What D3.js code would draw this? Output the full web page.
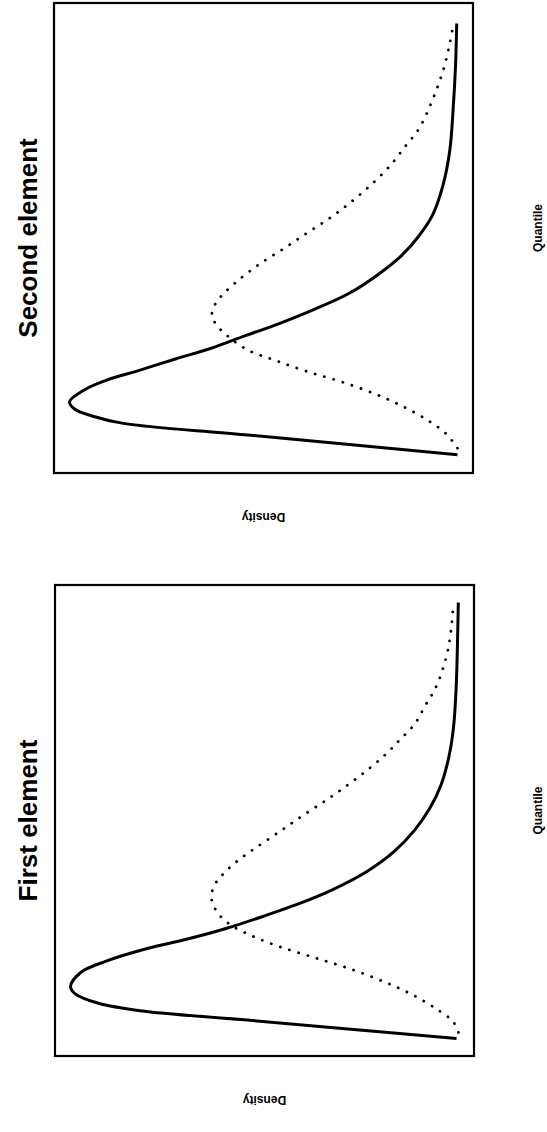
<!DOCTYPE html>
<html>
<head>
<meta charset="utf-8">
<script src="https://cdn.jsdelivr.net/npm/d3@7"></script>
<style>
  html, body { margin: 0; padding: 0; background: #fff; }
  svg { display: block; }
  text { font-family: "Liberation Sans", Arial, Helvetica, sans-serif; fill: #000; }
</style>
</head>
<body>
<script>
// Panel titles and axis labels
const panelTitles = ["First element", "Second element"];
const xLabel = "Quantile";
const yLabel = "Density";

// First element: solid curve (quantile, relative density)
const firstSolidQ = [0.0, 0.043, 0.064, 0.081, 0.102, 0.119, 0.152, 0.177, 0.202, 0.227, 0.253, 0.282, 0.307, 0.340, 0.382, 0.428, 0.478, 0.528, 0.579, 0.645, 0.712, 0.804, 0.930, 1.0];
const firstSolidD = [0.005, 0.552, 0.821, 0.928, 0.987, 1.0, 0.973, 0.910, 0.821, 0.704, 0.597, 0.498, 0.418, 0.328, 0.238, 0.167, 0.113, 0.074, 0.046, 0.025, 0.013, 0.006, 0.002, 0.0005];
// First element: dotted curve
const firstDotQ = [0.014, 0.039, 0.069, 0.102, 0.131, 0.161, 0.186, 0.211, 0.236, 0.261, 0.286, 0.311, 0.328, 0.353, 0.378, 0.407, 0.436, 0.474, 0.512, 0.549, 0.583, 0.620, 0.654, 0.687, 0.721, 0.763, 0.804, 0.846, 0.888, 0.938, 0.988];
const firstDotD = [0.0, 0.014, 0.059, 0.122, 0.194, 0.283, 0.373, 0.462, 0.534, 0.588, 0.619, 0.634, 0.637, 0.628, 0.606, 0.570, 0.525, 0.462, 0.400, 0.337, 0.283, 0.229, 0.185, 0.149, 0.113, 0.086, 0.059, 0.041, 0.028, 0.019, 0.014];

// Second element: solid curve
const secondSolidQ = [0.002, 0.048, 0.074, 0.091, 0.107, 0.124, 0.152, 0.173, 0.197, 0.222, 0.246, 0.275, 0.304, 0.336, 0.373, 0.414, 0.459, 0.504, 0.553, 0.619, 0.700, 0.799, 0.897, 0.993];
const secondSolidD = [0.0, 0.548, 0.861, 0.942, 0.987, 1.0, 0.960, 0.906, 0.816, 0.727, 0.637, 0.548, 0.458, 0.369, 0.279, 0.208, 0.145, 0.100, 0.064, 0.038, 0.020, 0.011, 0.005, 0.002];
// Second element: dotted curve
const secondDotQ = [0.017, 0.050, 0.079, 0.111, 0.140, 0.169, 0.193, 0.218, 0.242, 0.275, 0.304, 0.324, 0.349, 0.373, 0.402, 0.439, 0.475, 0.512, 0.549, 0.586, 0.627, 0.668, 0.709, 0.750, 0.799, 0.848, 0.897, 0.946, 0.989];
const secondDotD = [0.0, 0.029, 0.073, 0.136, 0.208, 0.297, 0.387, 0.467, 0.539, 0.593, 0.624, 0.633, 0.624, 0.602, 0.566, 0.512, 0.449, 0.387, 0.324, 0.270, 0.217, 0.172, 0.136, 0.100, 0.073, 0.051, 0.033, 0.020, 0.011];

const panels = [
  { title: panelTitles[0], solid: [firstSolidQ, firstSolidD], dotted: [firstDotQ, firstDotD], left: 76, right: 547, top: 55, bottom: 474 },
  { title: panelTitles[1], solid: [secondSolidQ, secondSolidD], dotted: [secondDotQ, secondDotD], left: 659, right: 1129, top: 54, bottom: 473 }
];

const W = 547, H = 1132;
const svg = d3.select("body").append("svg")
  .attr("width", W).attr("height", H)
  .attr("viewBox", `0 0 ${W} ${H}`);
svg.append("rect").attr("width", W).attr("height", H).attr("fill", "#fff");

// The page is laid out landscape and turned a quarter turn counter-clockwise
const page = svg.append("g").attr("transform", `translate(0,${H}) rotate(-90)`);

const pad = 0.04;
panels.forEach(p => {
  const x = d3.scaleLinear().domain([-pad, 1 + pad]).range([p.left, p.right]);
  const y = d3.scaleLinear().domain([-pad, 1 + pad]).range([p.bottom, p.top]);
  const g = page.append("g");

  const line = d3.line()
    .x(d => x(d[0])).y(d => y(d[1]))
    .curve(d3.curveCatmullRom.alpha(0.5));

  const solidPts = p.solid[0].map((q, i) => [q, p.solid[1][i]]);
  const dotPts = p.dotted[0].map((q, i) => [q, p.dotted[1][i]]);

  g.append("path").datum(dotPts)
    .attr("d", line)
    .attr("fill", "none").attr("stroke", "#000")
    .attr("stroke-width", 2.8)
    .attr("stroke-linecap", "round")
    .attr("stroke-dasharray", "0.1 9.5");

  g.append("path").datum(solidPts)
    .attr("d", line)
    .attr("fill", "none").attr("stroke", "#000")
    .attr("stroke-width", 3)
    .attr("stroke-linejoin", "round");

  g.append("rect")
    .attr("x", p.left).attr("y", p.top)
    .attr("width", p.right - p.left).attr("height", p.bottom - p.top)
    .attr("fill", "none").attr("stroke", "#000").attr("stroke-width", 2.2);

  const cx = (p.left + p.right) / 2;
  const cy = (p.top + p.bottom) / 2;

  g.append("text")
    .attr("x", cx).attr("y", 37)
    .attr("text-anchor", "middle")
    .attr("font-size", 26).attr("font-weight", "bold")
    .text(p.title);

  g.append("text")
    .attr("x", cx + 10).attr("y", 542)
    .attr("text-anchor", "middle")
    .attr("font-size", 12).attr("font-weight", "bold")
    .text(xLabel);

  g.append("text")
    .attr("transform", `translate(${p.left - 40},${cy}) rotate(-90)`)
    .attr("text-anchor", "middle")
    .attr("font-size", 12).attr("font-weight", "bold")
    .text(yLabel);
});
</script>
</body>
</html>
